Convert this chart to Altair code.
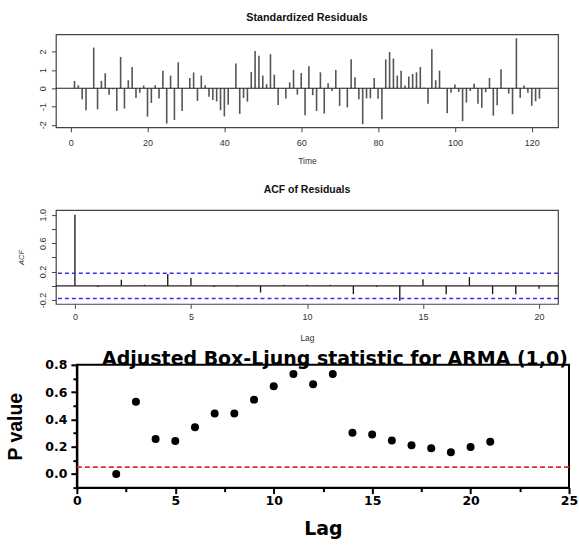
import altair as alt
import pandas as pd

FONT = "Liberation Sans"
BFONT = "DejaVu Sans"

# ---------------- data ----------------
time = list(range(1, 123))
resid = [0.40, 0.16, -0.60, -1.20, -0.03, 2.22, -1.15, 0.40, 0.82, -0.36,
         -0.05, -1.24, 1.71, -1.11, 0.44, 1.16, -0.53, -0.24, 0.15, -1.55,
         -0.80, 0.16, -0.56, 0.96, -1.93, 0.69, -1.73, 1.42, -1.24, 0.02,
         0.56, 0.86, -0.69, 0.69, 0.16, -0.47, -0.64, -0.72, -1.20, -1.54,
         -0.90, -0.04, 1.35, -1.40, -0.53, -0.73, 0.89, 2.03, 1.77, 0.69,
         0.22, 1.86, 0.74, -0.92, -0.03, -0.56, 0.32, 1.00, -0.35, 0.83,
         -1.48, 1.20, -0.38, -1.24, 0.87, -1.38, 0.27, -0.15, 1.00, -0.96,
         0.02, -1.05, 1.58, 0.60, -0.60, -1.96, -0.55, -0.55, 0.56, -0.58,
         -1.69, 1.58, 1.98, 1.62, 0.69, 0.96, 0.15, 0.64, 0.78, 0.87,
         1.16, 0.03, -0.85, 2.13, 0.44, 0.96, -0.02, -1.36, -0.24, 0.20,
         -0.20, -1.80, -0.78, -0.15, 0.25, -0.85, -1.07, -0.22, 0.56, -1.50,
         -0.93, 1.04, 0.02, -0.29, -1.42, 2.73, -0.53, 0.15, -0.24, -0.96,
         -0.71, -0.56]
time_ticks = [0, 20, 40, 60, 80, 100, 120]
resid_ticks = [-2, -1, 0, 1, 2]

acf_lag = list(range(0, 21))
acf_val = [1.0, -0.015, 0.085, 0.015, 0.165, 0.11, -0.015, -0.015, -0.094, 0.015,
           0.015, 0.015, -0.117, -0.015, -0.21, 0.094, -0.117, 0.122, -0.117, -0.117,
           -0.04]
acf_ci = [0.1775, -0.1775]
acf_xticks = [0, 5, 10, 15, 20]
acf_yticks = [-0.2, 0.0, 0.2, 0.4, 0.6, 0.8, 1.0]

lb_lag = list(range(2, 22))
lb_p = [0.0, 0.53, 0.256, 0.241, 0.342, 0.444, 0.444, 0.545, 0.643, 0.733,
        0.658, 0.733, 0.303, 0.289, 0.246, 0.21, 0.188, 0.159, 0.198, 0.236]
lb_sig = [0.05]
lb_xticks = [0, 2.5, 5, 7.5, 10, 12.5, 15, 17.5, 20, 22.5, 25]
lb_yticks = [-0.1, 0.0, 0.1, 0.2, 0.3, 0.4, 0.5, 0.6, 0.7, 0.8]

# ---------------- helpers ----------------
MINUS = "replace(datum.label, '\u2212', '-')"

def r_axis(values, title, vertical=False, **kw):
    d = dict(values=values, title=title, grid=False, domain=False,
             tickSize=4.5, tickColor="#444", tickWidth=1, labelOverlap=False,
             labelFlush=False,
             labelFont=FONT, labelFontSize=9, labelColor="#333", labelPadding=4,
             titleFont=FONT, titleFontSize=8.5, titleFontWeight="normal",
             titleColor="#333", labelExpr=MINUS)
    if vertical:
        d.update(labelAngle=270, labelAlign="center", labelBaseline="bottom")
    d.update(kw)
    return alt.Axis(**d)

frame_thin = alt.ViewBackground(stroke="#444", strokeWidth=1.2, fill="white")

# ---------------- standardized residuals ----------------
df_r = pd.DataFrame({"Time": time, "resid": resid})
xs_r = alt.Scale(domain=[-3.84, 126.84], nice=False, zero=False)
ys_r = alt.Scale(domain=[-2.13, 2.94], nice=False, zero=False)
ax_r = r_axis(resid_ticks, "", vertical=True)

spikes = alt.Chart(df_r).transform_calculate(zero="0").mark_rule(
    color="#555", strokeWidth=1.6
).encode(
    x=alt.X("Time:Q", scale=xs_r,
            axis=r_axis(time_ticks, "Time", labelPadding=7, titlePadding=9)),
    y=alt.Y("resid:Q", scale=ys_r, axis=ax_r),
    y2="zero:Q",
)
zero_r = alt.Chart(pd.DataFrame({"resid": [0]})).mark_rule(
    color="#222", strokeWidth=1.2
).encode(y=alt.Y("resid:Q", scale=ys_r, axis=ax_r))

top = alt.layer(spikes, zero_r).properties(
    width=503, height=93, view=frame_thin,
    title=alt.TitleParams("Standardized Residuals", font=FONT, fontSize=10.8,
                          fontWeight="bold", color="#111", frame="group",
                          anchor="middle", baseline="bottom", offset=1),
)

# ---------------- ACF ----------------
df_a = pd.DataFrame({"Lag": acf_lag, "ACF": acf_val})
xs_a = alt.Scale(domain=[-0.82, 20.82], nice=False, zero=False)
ys_a = alt.Scale(domain=[-0.255, 1.065], nice=False, zero=False)
ylab_expr = ("abs(round(datum.value * 10)) % 4 === 2 ? "
             "replace(format(datum.value, '.1f'), '\u2212', '-') : ''")
ax_a = r_axis(acf_yticks, "ACF", vertical=True, labelExpr=ylab_expr,
              titleFontStyle="italic", titleFontSize=7.5, titlePadding=13)

acf_spikes = alt.Chart(df_a).transform_calculate(zero="0").mark_rule(
    color="#111", strokeWidth=1.3
).encode(
    x=alt.X("Lag:Q", scale=xs_a,
            axis=r_axis(acf_xticks, "Lag", labelPadding=4, titlePadding=12)),
    y=alt.Y("ACF:Q", scale=ys_a, axis=ax_a),
    y2="zero:Q",
)
zero_a = alt.Chart(pd.DataFrame({"ACF": [0]})).mark_rule(
    color="#222", strokeWidth=1.2
).encode(y=alt.Y("ACF:Q", scale=ys_a, axis=ax_a))
ci_a = alt.Chart(pd.DataFrame({"ACF": acf_ci})).mark_rule(
    color="#3030ff", strokeWidth=1.5, strokeDash=[4, 3]
).encode(y=alt.Y("ACF:Q", scale=ys_a, axis=ax_a))

acf = alt.layer(acf_spikes, zero_a, ci_a).properties(
    width=503, height=94, view=frame_thin,
    title=alt.TitleParams("ACF of Residuals", font=FONT, fontSize=10.5,
                          fontWeight="bold", color="#111", frame="group",
                          anchor="middle", baseline="bottom", offset=3.2),
)

# ---------------- Box-Ljung p-values ----------------
df_lb = pd.DataFrame({"lag": lb_lag, "p": lb_p})
xs_lb = alt.Scale(domain=[0, 25], nice=False, zero=False)
ys_lb = alt.Scale(domain=[-0.1, 0.8], nice=False, zero=False)

bold_axis = dict(grid=False, domain=True, domainColor="black", domainWidth=2,
                 tickColor="black", tickWidth=2, labelOverlap=False,
                 labelFlush=False,
                 labelFont=BFONT, labelFontSize=12.5, labelFontWeight="bold",
                 labelColor="black",
                 titleFontWeight="bold", titleColor="black")
ax_lb_y = alt.Axis(values=lb_yticks, title="P value", titleFontSize=19.5,
                   titleFont=FONT,
                   labelExpr="round(datum.value * 10) % 2 === 0 ? format(datum.value, '.1f') : ''",
                   tickSize={"condition": {"test": "round(datum.value * 10) % 2 === 0", "value": 6},
                             "value": 4},
                   labelPadding=4, titlePadding=19, **bold_axis)
ax_lb_x = alt.Axis(values=lb_xticks, title="Lag", titleFontSize=19, titleFont=BFONT,
                   labelExpr="datum.value % 5 === 0 ? format(datum.value, 'd') : ''",
                   tickSize={"condition": {"test": "datum.value % 5 === 0", "value": 6},
                             "value": 4},
                   labelPadding=1, titlePadding=12, **bold_axis)

pts = alt.Chart(df_lb).mark_circle(size=64, color="black", opacity=1).encode(
    x=alt.X("lag:Q", scale=xs_lb, axis=ax_lb_x),
    y=alt.Y("p:Q", scale=ys_lb, axis=ax_lb_y),
)
sig = alt.Chart(pd.DataFrame({"p": lb_sig})).mark_rule(
    color="#e02a2a", strokeWidth=1.6, strokeDash=[5, 3]
).encode(y=alt.Y("p:Q", scale=ys_lb, axis=ax_lb_y))

lb_chart = alt.layer(pts, sig).properties(
    width=493, height=123,
    view=alt.ViewBackground(stroke="black", strokeWidth=2, fill="white"),
    title=alt.TitleParams("Adjusted Box-Ljung statistic for ARMA (1,0)", font=BFONT,
                          fontSize=19, fontWeight="bold", color="black",
                          frame="group", anchor="middle", baseline="bottom",
                          offset=-29, dx=12),
)

spacer = alt.Chart(pd.DataFrame({"v": [0]})).mark_point(opacity=0).encode(
    x=alt.X("v:Q", axis=None), y=alt.Y("v:Q", axis=None)
).properties(width=1, height=1,
             view=alt.ViewBackground(stroke="transparent", fill="transparent"))

bottom_row = alt.hconcat(spacer, lb_chart, spacing=20, bounds="flush")

chart = alt.vconcat(
    alt.vconcat(top, acf, spacing=18),
    bottom_row,
    spacing=6,
).properties(
    padding={"left": 4, "top": 10, "right": 0, "bottom": 0},
    background="white",
).configure(font=FONT)

chart.save("out.html", embed_options={"renderer": "svg", "actions": False})
